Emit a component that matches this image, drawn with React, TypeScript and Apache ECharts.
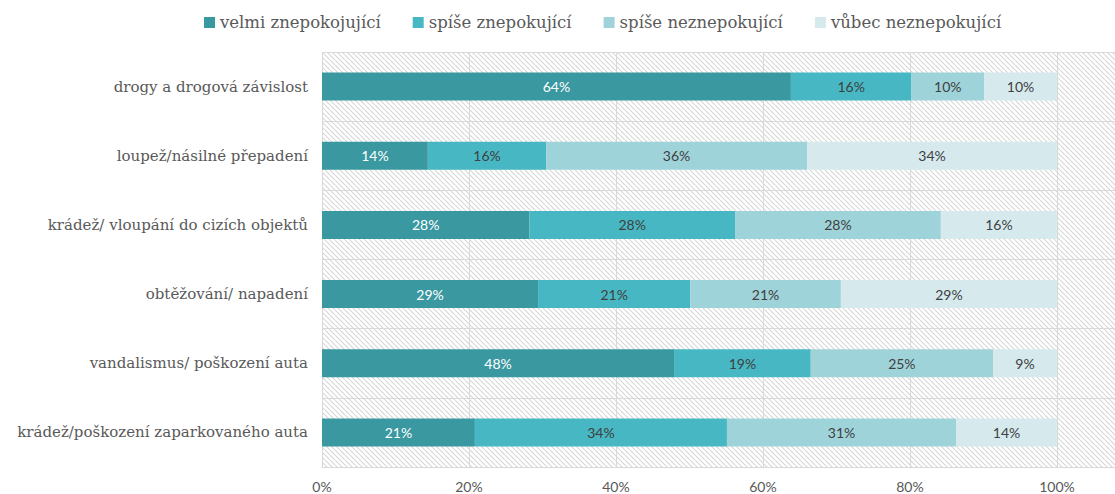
import React, { useEffect, useRef } from "react";
import * as echarts from "echarts";

const categories = [
  "drogy a drogová závislost",
  "loupež/násilné přepadení",
  "krádež/ vloupání do cizích objektů",
  "obtěžování/ napadení",
  "vandalismus/ poškození auta",
  "krádež/poškození zaparkovaného auta",
];
const seriesNames = [
  "velmi znepokojující",
  "spíše znepokující",
  "spíše neznepokující",
  "vůbec neznepokující",
];
const velmi = [63.8, 14.4, 28.2, 29.4, 47.9, 20.8];
const spiseZ = [16.4, 16.1, 28.0, 20.7, 18.6, 34.3];
const spiseN = [9.9, 35.5, 28.0, 20.5, 24.8, 31.2];
const vubec = [9.9, 34.0, 15.8, 29.4, 8.7, 13.7];
const seriesValues = [velmi, spiseZ, spiseN, vubec];
const colors = ["#3a98a1", "#47b8c3", "#9fd3da", "#d6eaee"];
const labelColors = ["#ffffff", "#404040", "#404040", "#404040"];
const xTicks = [0, 20, 40, 60, 80, 100];

function makeHatch() {
  const s = 5;
  const c = document.createElement("canvas");
  c.width = s;
  c.height = s;
  const ctx = c.getContext("2d")!;
  ctx.fillStyle = "#ffffff";
  ctx.fillRect(0, 0, s, s);
  ctx.strokeStyle = "#d6d6d6";
  ctx.lineWidth = 1.1;
  ctx.beginPath();
  for (let k = -s; k <= 2 * s; k += s) {
    ctx.moveTo(k, 0);
    ctx.lineTo(k + s, s);
  }
  ctx.stroke();
  return c;
}

export default function App() {
  const ref = useRef<HTMLDivElement>(null);
  useEffect(() => {
    if (!ref.current) return;
    const chart = echarts.init(ref.current, null, { renderer: "svg" });
    const hatch = makeHatch();
    chart.setOption({
      animation: false,
      legend: {
        top: 9,
        left: 199,
        icon: "rect",
        itemWidth: 11,
        itemHeight: 11,
        itemGap: 32,
        itemTextGap: 4,
        textStyle: { fontFamily: "DejaVu Serif", fontSize: 16.5, color: "#595959" },
        data: seriesNames,
      },
      grid: {
        left: 322,
        right: 0,
        top: 52,
        bottom: 27,
        show: true,
        borderWidth: 0,
        backgroundColor: { image: hatch, repeat: "repeat", imageWidth: 5, imageHeight: 5 } as any,
      },
      xAxis: {
        type: "value",
        min: 0,
        max: 107.9,
        interval: 20,
        axisLine: { show: true, lineStyle: { color: "#d9d9d9" } },
        axisTick: { show: false },
        splitLine: { show: true, lineStyle: { color: "#d9d9d9" } },
        axisLabel: {
          fontFamily: "Lato",
          fontSize: 14,
          color: "#595959",
          margin: 12,
          showMaxLabel: false,
          formatter: (v: number) => (xTicks.includes(Math.round(v)) && v <= 100 ? `${v}%` : ""),
        },
      },
      yAxis: {
        type: "category",
        inverse: true,
        data: categories,
        axisLine: { show: false },
        axisTick: { show: false },
        splitLine: { show: true, lineStyle: { color: "#d9d9d9" } },
        axisLabel: { fontFamily: "DejaVu Serif", fontSize: 15, color: "#595959", margin: 14 },
      },
      series: seriesNames.map((name, i) => ({
        name,
        type: "bar",
        stack: "total",
        barWidth: 28,
        itemStyle: { color: colors[i] },
        label: {
          show: true,
          position: "inside",
          fontFamily: "Lato",
          fontSize: 14,
          color: labelColors[i],
          formatter: (p: any) => `${Math.round(p.value)}%`,
        },
        data: seriesValues[i],
      })),
    });
    return () => chart.dispose();
  }, []);
  return (
    <div
      ref={ref}
      style={{ position: "absolute", left: 0, top: 0, width: 1115, height: 494 }}
    />
  );
}
